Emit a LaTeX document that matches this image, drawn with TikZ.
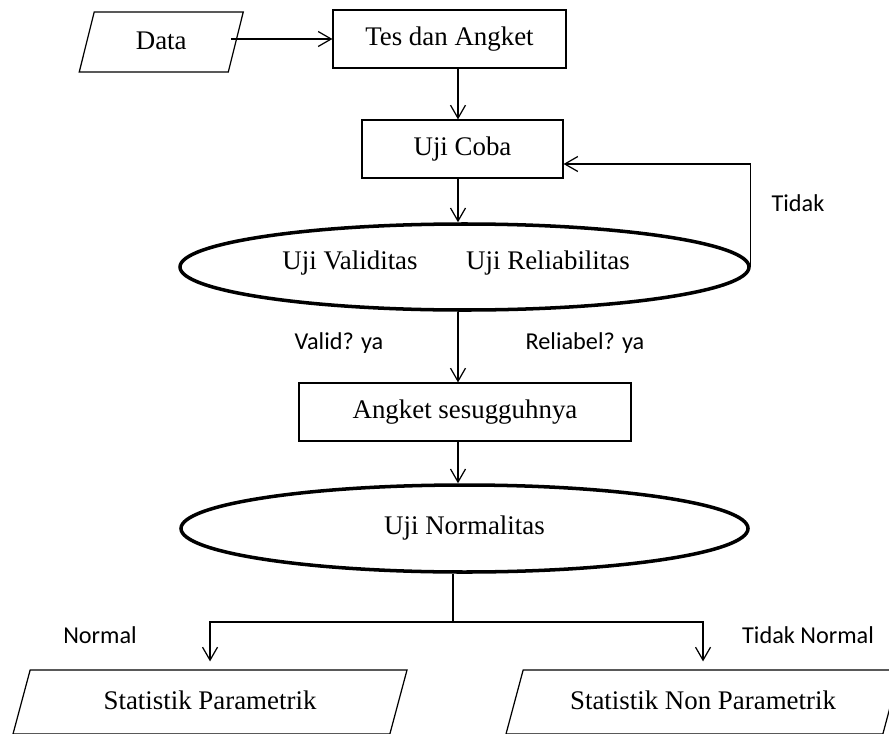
\documentclass[tikz,border=0pt]{standalone}
\usepackage{fontspec}
\setmainfont{Liberation Serif}
\setsansfont{Carlito}
\usepackage{tikz}
\usetikzlibrary{shapes.geometric, arrows.meta}

\begin{document}
\begin{tikzpicture}
      \tikzstyle{block} = [draw, rectangle, line width=0.7pt,
                           minimum height=1.16cm, align=center,
                           font=\fontsize{15.3}{18}\selectfont]
      \tikzstyle{oval} = [draw, ellipse, line width=2pt, inner sep=0pt,
                          font=\fontsize{15.3}{18}\selectfont]
      \tikzstyle{io} = [draw, trapezium, trapezium stretches body,
                        line width=0.7pt, inner xsep=0pt,
                        text height=0.4cm, text depth=0.1cm,
                        font=\fontsize{15.3}{18}\selectfont]
      \tikzstyle{txt} = [font=\fontsize{15.3}{18}\selectfont]
      \tikzstyle{lbl} = [font=\sffamily\fontsize{13.8}{16}\selectfont]
      \tikzstyle{arr} = [line width=0.7pt,
                         -{Straight Barb[length=2.6mm,width=3mm]}]

      \clip (0,0) rectangle (17.78,-14.66);

      \node[io, trapezium left angle=76, trapezium right angle=104,
            minimum width=3.28cm, inner ysep=0.35cm] (data) at (3.225,-0.84) {Data};
      \node[block, minimum width=4.66cm] (tes) at (8.99,-0.78) {Tes dan Angket};
      \node[block, minimum width=4.02cm] (coba) at (9.25,-2.98) {Uji Coba};
      \node[oval, minimum width=11.38cm, minimum height=1.72cm] (uji1) at (9.29,-5.34) {};
      \node[txt] (valid) at (7.0,-5.26) {Uji Validitas};
      \node[txt] (reliab) at (10.96,-5.26) {Uji Reliabilitas};
      \node[block, minimum width=6.64cm] (angket) at (9.3,-8.24) {Angket sesugguhnya};
      \node[oval, minimum width=11.34cm, minimum height=1.74cm] (uji2) at (9.29,-10.57) {Uji Normalitas};
      \node[io, trapezium left angle=75, trapezium right angle=105,
            minimum width=7.88cm, inner ysep=0.39cm] (param) at (4.2,-14.04) {Statistik Parametrik};
      \node[io, trapezium left angle=75, trapezium right angle=105,
            minimum width=7.88cm, inner ysep=0.39cm] (nonparam) at (14.06,-14.04) {Statistik Non Parametrik};

      % labels
      \node[lbl] (tidak) at (15.96,-4.06) {Tidak};
      \node[lbl] (validya) at (6.78,-6.86) {Valid? ya};
      \node[lbl] (reliabya) at (11.7,-6.86) {Reliabel? ya};
      \node[lbl] (normal) at (2.0,-12.7) {Normal};
      \node[lbl] (tidaknormal) at (16.16,-12.7) {Tidak Normal};

      \coordinate (axis) at (9.16,0);
      \coordinate (split) at (9.06,-12.44);

      \draw[arr] ([xshift=-0.1cm]data.east |- tes.west) -- (tes.west);
      \draw[arr] (tes.south -| axis) -- (coba.north -| axis);
      \draw[arr] (coba.south -| axis) -- (uji1.north -| axis);
      \draw[arr] (uji1.east) |- ([yshift=-0.3cm]coba.east);
      \draw[arr] (uji1.south -| axis) -- (angket.north -| axis);
      \draw[arr] (angket.south -| axis) -- (uji2.north -| axis);
      \draw[line width=0.7pt] (uji2.south -| split) -- (split);
      \draw[arr] (split) -| ([yshift=0.16cm]param.north);
      \draw[arr] (split) -| ([yshift=0.16cm]nonparam.north);
    \end{tikzpicture}
\end{document}
